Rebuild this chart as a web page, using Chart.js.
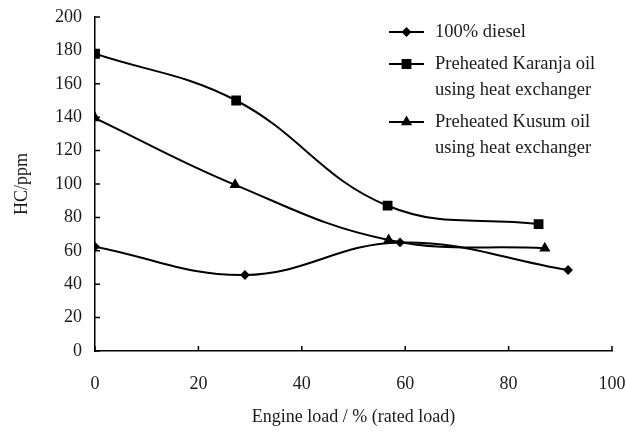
<!DOCTYPE html>
<html>
<head>
<meta charset="utf-8">
<script src="https://cdn.jsdelivr.net/npm/chart.js@4"></script>
<style>
  html, body { margin: 0; padding: 0; background: #fff; }
  #wrap { width: 626px; height: 432px; position: relative; }
</style>
</head>
<body>
<div id="wrap"><canvas id="hcChart"></canvas></div>
<script>
// data
const dieselLoad = [0, 29, 59, 91.5];
const dieselHC = [62.5, 45.5, 65, 48.5];
const karanjaLoad = [0, 27.3, 56.6, 85.8];
const karanjaHC = [178, 150, 87, 76];
const kusumLoad = [0, 27.1, 56.8, 87];
const kusumHC = [139.5, 99.5, 66.5, 61.5];

const seriesNames = [
    ["100% diesel"],
    ["Preheated Karanja oil", "using heat exchanger"],
    ["Preheated Kusum oil", "using heat exchanger"]
];
const xTitle = "Engine load / % (rated load)";
const yTitle = "HC/ppm";

const FONT = "'Liberation Serif', 'Times New Roman', serif";

function toPoints(xs, ys) {
    return xs.map((x, i) => ({ x: x, y: ys[i] }));
}

// inward tick marks + custom legend
const figurePlugin = {
    id: "figure",
    afterDraw(chart) {
        const c = chart.ctx;
        const xs = chart.scales.x, ys = chart.scales.y;
        c.save();
        c.strokeStyle = "#000";
        c.lineWidth = 1.5;
        c.beginPath();
        ys.ticks.forEach(t => {
            const py = ys.getPixelForValue(t.value);
            c.moveTo(xs.left, py);
            c.lineTo(xs.left + 5, py);
        });
        xs.ticks.forEach(t => {
            const px = xs.getPixelForValue(t.value);
            c.moveTo(px, ys.bottom);
            c.lineTo(px, ys.bottom - 5);
        });
        c.stroke();

        // legend
        const rows = [32, 64, 122];
        c.font = "18.5px " + FONT;
        c.textBaseline = "middle";
        chart.data.datasets.forEach((ds, i) => {
            const y = rows[i];
            c.beginPath();
            c.lineWidth = 2;
            c.moveTo(389, y);
            c.lineTo(424, y);
            c.stroke();
            Chart.helpers.drawPoint(c, {
                pointStyle: ds.pointStyle,
                radius: ds.pointRadius,
                rotation: 0,
                borderWidth: 1
            }, 406.5, y);
            c.fillStyle = "#000";
            c.fill();
            c.fillStyle = "#1a1a1a";
            seriesNames[i].forEach((line, j) => {
                c.fillText(line, 435, y + j * 26);
            });
        });
        c.restore();
    }
};

const commonLine = {
    borderColor: "#000",
    backgroundColor: "#000",
    borderWidth: 2,
    tension: 0.4,
    fill: false
};

new Chart(document.getElementById("hcChart").getContext("2d"), {
    type: "line",
    data: {
        datasets: [
            Object.assign({}, commonLine, {
                label: seriesNames[0].join(" "),
                data: toPoints(dieselLoad, dieselHC),
                pointStyle: "rectRot",
                pointRadius: 3.5
            }),
            Object.assign({}, commonLine, {
                label: seriesNames[1].join(" "),
                data: toPoints(karanjaLoad, karanjaHC),
                pointStyle: "rect",
                pointRadius: 5.5
            }),
            Object.assign({}, commonLine, {
                label: seriesNames[2].join(" "),
                data: toPoints(kusumLoad, kusumHC),
                pointStyle: "triangle",
                pointRadius: 4.5
            })
        ]
    },
    options: {
        responsive: true,
        maintainAspectRatio: false,
        animation: false,
        layout: { padding: { left: 9, right: 0, top: 0, bottom: 0 } },
        plugins: {
            legend: { display: false },
            tooltip: { enabled: false }
        },
        scales: {
            x: {
                type: "linear",
                min: 0,
                max: 100,
                afterFit: s => { s.paddingRight = 14; },
                ticks: {
                    stepSize: 20,
                    color: "#1a1a1a",
                    padding: 24,
                    font: { family: FONT, size: 18, lineHeight: 1 }
                },
                grid: { display: false, drawTicks: false },
                border: { color: "#000", width: 1.5 },
                title: {
                    display: true,
                    text: xTitle,
                    color: "#1a1a1a",
                    font: { family: FONT, size: 18, lineHeight: 1 },
                    padding: { top: -9, bottom: 6 }
                }
            },
            y: {
                min: 0,
                max: 200,
                afterFit: s => { s.paddingTop = 17; },
                ticks: {
                    stepSize: 20,
                    color: "#1a1a1a",
                    padding: 13,
                    font: { family: FONT, size: 18, lineHeight: 1 }
                },
                grid: { display: false, drawTicks: false },
                border: { color: "#000", width: 1.5 },
                title: {
                    display: true,
                    text: yTitle,
                    color: "#1a1a1a",
                    font: { family: FONT, size: 18, lineHeight: 1 },
                    padding: { bottom: 11 }
                }
            }
        }
    },
    plugins: [figurePlugin]
});
</script>
</body>
</html>
